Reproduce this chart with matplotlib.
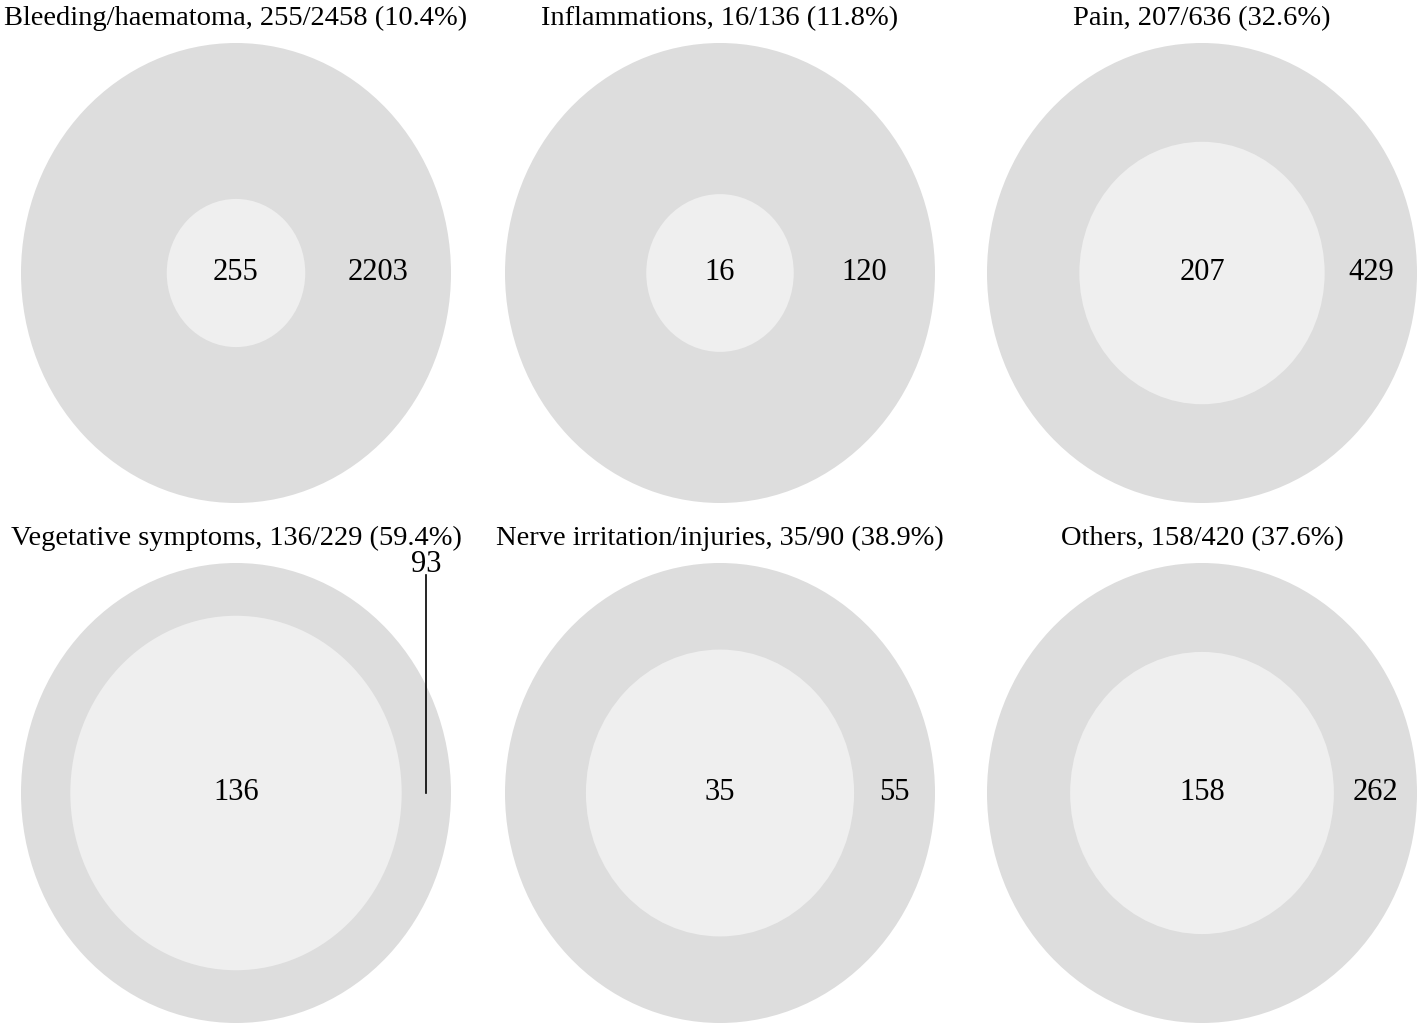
import numpy as np
import matplotlib
matplotlib.use("Agg")
import matplotlib.pyplot as plt
from matplotlib.patches import Ellipse

plt.rcParams['font.family'] = ['Liberation Serif', 'DejaVu Serif']

titles = ['Bleeding/haematoma', 'Inflammations', 'Pain',
          'Vegetative symptoms', 'Nerve irritation/injuries', 'Others']
cases = [255, 16, 207, 136, 35, 158]
totals = [2458, 136, 636, 229, 90, 420]
pcts = ['10.4', '11.8', '32.6', '59.4', '38.9', '37.6']

outer_col = '#dddddd'
inner_col = '#efefef'

W, H = 1418, 1026
fig = plt.figure(figsize=(W / 100, H / 100), dpi=100)

lefts = [21, 505, 987]
tops = [43, 563]
pw, ph = 430, 460

for i in range(6):
    row, col = divmod(i, 3)
    ax = fig.add_axes([lefts[col] / W, 1 - (tops[row] + ph) / H, pw / W, ph / H])
    ax.set_xlim(-1, 1)
    ax.set_ylim(-1, 1)
    ax.axis('off')

    r_in = np.sqrt(cases[i] / totals[i])
    ax.add_patch(Ellipse((0, 0), 2, 2, color=outer_col, lw=0))
    ax.add_patch(Ellipse((0, 0), 2 * r_in, 2 * r_in, color=inner_col, lw=0))

    ax.text(0, 0, str(cases[i]), ha='center', va='center', fontsize=22)
    rest = totals[i] - cases[i]
    xo = (r_in + 1) / 2
    if 1 - r_in < 0.3:
        # not enough room in the ring, label pulled up with a leader line
        ax.plot([xo, xo], [0, 0.948], color='black', lw=1.2, clip_on=False)
        ax.text(xo, 0.995, str(rest), ha='center', va='center', fontsize=22,
                clip_on=False)
    else:
        ax.text(xo, 0, str(rest), ha='center', va='center', fontsize=22)

    ax.set_title('%s, %d/%d (%s%%)' % (titles[i], cases[i], totals[i], pcts[i]),
                 fontsize=20.5, pad=13)

fig.savefig('out.png', dpi=100)
